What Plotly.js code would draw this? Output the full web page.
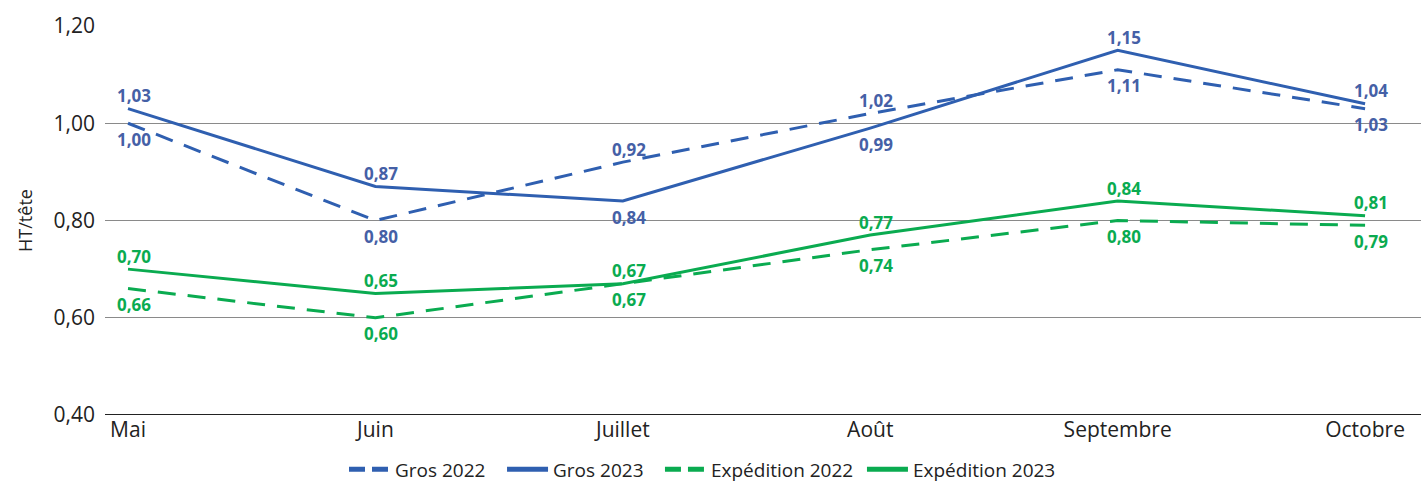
<!DOCTYPE html>
<html><head><meta charset="utf-8">
<script src="https://cdn.plot.ly/plotly-3.0.1.min.js"></script>
<style>html,body{margin:0;padding:0;background:#fff}#c{width:1421px;height:481px}</style>
</head><body><div id="c"></div>
<script>
const months = ["Mai","Juin","Juillet","Août","Septembre","Octobre"];
const gros2022 = [1.00,0.80,0.92,1.02,1.11,1.03];
const gros2023 = [1.03,0.87,0.84,0.99,1.15,1.04];
const exp2022 = [0.66,0.60,0.67,0.74,0.80,0.79];
const exp2023 = [0.70,0.65,0.67,0.77,0.84,0.81];
const yTicks = [0.40,0.60,0.80,1.00,1.20];
// label placement: +1 above the point, -1 below
const gros2022Pos = [-1,-1,1,1,-1,-1];
const gros2023Pos = [1,1,-1,-1,1,1];
const exp2022Pos = [-1,-1,-1,-1,-1,-1];
const exp2023Pos = [1,1,1,1,1,1];

const BLUE = "#2f5fb0", BLUE_T = "#4560a6", GREEN = "#0aab50";
const FONT = 'Open Sans, sans-serif';
const fmt = v => v.toFixed(2).replace('.', ',');
const idx = months.map((_, i) => i);

const series = [
  {name: 'Gros 2022', y: gros2022, pos: gros2022Pos, color: BLUE, tcolor: BLUE_T, dash: '18px,12px', ldash: '16px,7px', lx: 0.1816},
  {name: 'Gros 2023', y: gros2023, pos: gros2023Pos, color: BLUE, tcolor: BLUE_T, dash: 'solid', ldash: 'solid', lx: 0.3017},
  {name: 'Expédition 2022', y: exp2022, pos: exp2022Pos, color: GREEN, tcolor: GREEN, dash: '18px,12px', ldash: '16px,7px', lx: 0.4217},
  {name: 'Expédition 2023', y: exp2023, pos: exp2023Pos, color: GREEN, tcolor: GREEN, dash: 'solid', ldash: 'solid', lx: 0.5752}
];
const data = [];
const annotations = [];
series.forEach(s => {
  data.push({type: 'scatter', mode: 'lines', name: s.name, x: idx, y: s.y, showlegend: false,
    line: {color: s.color, width: 3, dash: s.dash}, hoverinfo: 'skip'});
  s.y.forEach((v, i) => annotations.push({x: i, y: v, xref: 'x', yref: 'y', text: fmt(v), showarrow: false,
    xshift: 6, yshift: s.pos[i] > 0 ? 13 : -16, font: {family: FONT, size: 17, color: s.tcolor, weight: 700}}));
});
const layout = {
  width: 1421, height: 481, autosize: false,
  margin: {l: 105, r: 0, t: 26, b: 66, autoexpand: false},
  paper_bgcolor: '#fff', plot_bgcolor: '#fff',
  font: {family: FONT, color: '#222', size: 19},
  showlegend: true,
  annotations: annotations,
  xaxis: {range: [-0.093, 5.226], tickvals: idx, ticktext: months, showgrid: false, zeroline: false,
    showline: false, ticks: '', ticklen: 0, tickfont: {size: 21, color: '#222'}, fixedrange: true, automargin: false},
  yaxis: {range: [0.4, 1.2], tickvals: yTicks, ticktext: yTicks.map(fmt), showgrid: true,
    gridcolor: '#8a8a8a', gridwidth: 1, zeroline: false, showline: false, ticks: '',
    tickfont: {size: 21, color: '#222'}, ticklabelstandoff: 9, automargin: false,
    title: {text: 'HT/tête', font: {size: 18, color: '#222'}, standoff: 16}, fixedrange: true},
  shapes: [{type: 'line', xref: 'paper', yref: 'y', x0: 0, x1: 1, y0: 0.4, y1: 0.4, line: {color: '#222', width: 2}}]
};
series.forEach((s, k) => {
  const lname = k === 0 ? 'legend' : 'legend' + (k + 1);
  data.push({type: 'scatter', mode: 'lines', name: s.name, x: [null], y: [null], showlegend: true,
    legend: lname, line: {color: s.color, width: 5, dash: s.ldash}, hoverinfo: 'skip'});
  layout[lname] = {orientation: 'h', x: s.lx, xanchor: 'left', y: -0.14, yanchor: 'middle',
    font: {size: 19, color: '#222'}, itemwidth: 41, bgcolor: 'rgba(0,0,0,0)'};
});
Plotly.newPlot('c', data, layout, {displayModeBar: false, staticPlot: true});
</script></body></html>
